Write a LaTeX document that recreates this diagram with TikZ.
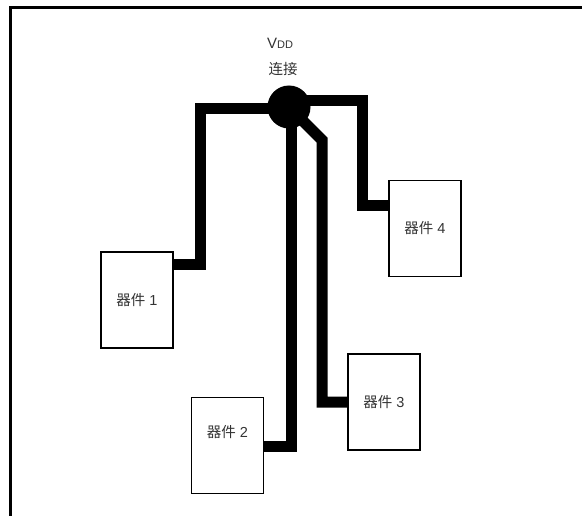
\documentclass[tikz,border=0pt]{standalone}
\usepackage{fontspec}
\setmainfont{Liberation Sans}
\newfontfamily\cjk{Noto Sans CJK SC}
\usetikzlibrary{calc}

\begin{document}
\begin{tikzpicture}[
    x=1pt, y=-1pt,
    device/.style={rectangle, draw=black, line width=1.6pt, minimum width=72pt, minimum height=96pt, inner sep=0pt},
    devtext/.style={font=\fontsize{14.5}{17}\selectfont, text=black!80},
    wire/.style={line width=11pt, line join=miter},
    junction/.style={circle, fill=black, minimum size=43pt, inner sep=0pt},
    frame/.style={line width=2.5pt}
]
\useasboundingbox (0,0) rectangle (582,516);

% Frame
\draw[frame] (10.5,516) -- (10.5,7.5) -- (582,7.5);

% Supply label
\node[devtext] (vddtxt) at (280,43) {\fontsize{15}{17}\selectfont V\fontsize{11}{13}\selectfont DD};
\node[devtext] (contxt) at (283,69) {\cjk 连接};

% Devices
\node[device, devtext] (dev1) at (137,300) {{\cjk 器件} 1};
\node[device] (dev2) at (227.5,445.5) {};
\node[devtext] (dev2txt) at (227.5,432) {{\cjk 器件} 2};
\node[device, devtext] (dev3) at (384,402) {{\cjk 器件} 3};
\node[device, devtext] (dev4) at (425,228.5) {{\cjk 器件} 4};

% Junction point
\coordinate (vdd) at (289,107);

% Bend points
\coordinate (b1) at (200,265);
\coordinate (b2) at (291,446);
\coordinate (b3a) at (322,140);
\coordinate (b3) at (322,402);
\coordinate (b4) at (362,206);

% Wires
\draw[wire] ([yshift=-1.5pt]vdd) -| (b1) -- (b1 -| dev1.east);
\draw[wire] (vdd -| b2) -- (b2) -- (b2 -| dev2.east);
\draw[wire] (vdd) -- (b3a) -- (b3) -- (b3 -| dev3.west);
\draw[wire] ([yshift=6pt]vdd) -| (b4) -- (b4 -| dev4.west);

\node[junction] (vddnode) at (vdd) {};

\end{tikzpicture}
\end{document}
